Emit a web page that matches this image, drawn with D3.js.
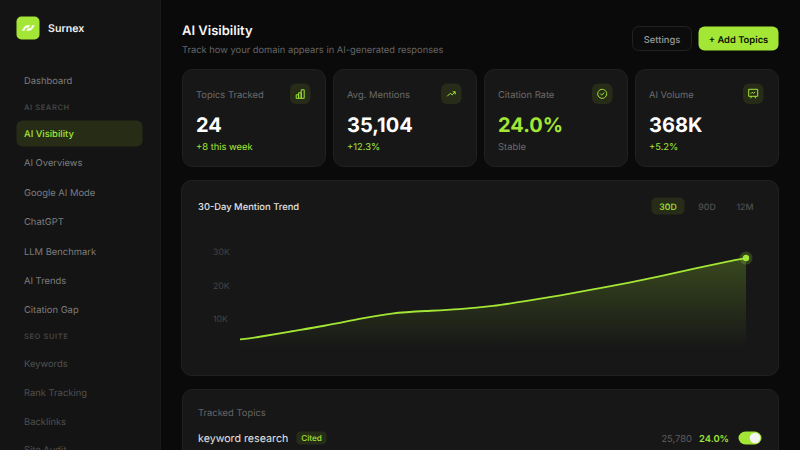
<!DOCTYPE html>
<html>
<head>
<meta charset="utf-8">
<script src="https://cdn.jsdelivr.net/npm/d3@7/dist/d3.min.js"></script>
<style>
  html, body { margin: 0; padding: 0; background: #0a0a0a; overflow: hidden; }
  svg { display: block; }
  text { font-family: Inter, "Noto Sans", sans-serif; text-rendering: geometricPrecision; }
  .axis text { fill: #444; font-size: 8.75px; }
</style>
</head>
<body>
<svg id="svg" width="800" height="450"></svg>
<script>

// nav
var navLabels = ['Dashboard', 'AI SEARCH', 'AI Visibility', 'AI Overviews', 'Google AI Mode', 'ChatGPT',
  'LLM Benchmark', 'AI Trends', 'Citation Gap', 'SEO SUITE', 'Keywords', 'Rank Tracking', 'Backlinks', 'Site Audit'];
var navY = [80, 107, 133, 162, 192, 221, 251, 280, 309, 336, 363, 392, 421, 449];

// stat cards
var cardLabels = ['Topics Tracked', 'Avg. Mentions', 'Citation Rate', 'AI Volume'];
var cardValues = ['24', '35,104', '24.0%', '368K'];
var cardNotes = ['+8 this week', '+12.3%', 'Stable', '+5.2%'];

// trend
var days = [0, 1, 3, 5, 7, 9, 11, 13, 15, 17, 19, 21, 23, 25, 27, 29, 30];
var mentions = [3900, 4500, 6300, 7900, 10000, 11850, 12400, 12850, 13800, 15400, 17000, 18900, 20750, 22800, 25100, 27300, 28200];
var yTicks = [10000, 20000, 30000];
var tabs = ['30D', '90D', '12M'];

var lime = '#a3e635';
var svg = d3.select('#svg');

function label(parent, x, y, str, size, color, weight, anchor) {
  return parent.append('text')
    .attr('x', x).attr('y', y)
    .attr('dy', '0.4em')
    .attr('font-size', size)
    .attr('font-weight', weight || 400)
    .attr('text-anchor', anchor || 'start')
    .attr('fill', color)
    .text(str);
}

function box(parent, x, y, w, h, r, fill, stroke) {
  return parent.append('rect')
    .attr('x', x + 0.5).attr('y', y + 0.5)
    .attr('width', w - 1).attr('height', h - 1)
    .attr('rx', r)
    .attr('fill', fill)
    .attr('stroke', stroke || 'none');
}

/* ---- sidebar ---- */
svg.append('rect').attr('width', 160).attr('height', 450).attr('fill', '#141414');
svg.append('rect').attr('x', 160).attr('width', 1).attr('height', 450).attr('fill', '#1a1a1a');

box(svg, 16, 16, 24, 24, 5, lime);
svg.append('path')
  .attr('d', 'M22 30.5l2.5-3.6q1-1.4 2.6-1.4h3l-2.2 2.2h-1.6q-0.6 0-1 0.6l-1 2.2zM34.5 25.5l-2.5 3.6q-1 1.4-2.6 1.4h-3l2.2-2.2h1.6q0.6 0 1-0.6l1-2.2z')
  .attr('fill', '#fff')
  .attr('stroke', '#fff')
  .attr('stroke-width', 0.4);
label(svg, 48, 28, 'Surnex', 10.6, '#f2f2f2', 600);

box(svg, 16, 120, 127, 27, 6, '#262c16');

navLabels.forEach(function (name, i) {
  var isHead = name === 'AI SEARCH' || name === 'SEO SUITE';
  if (isHead) {
    label(svg, 24, navY[i], name, 7.5, '#444', 600).attr('letter-spacing', '0.6px');
    return;
  }
  var color = i === 2 ? lime : (i > 9 ? '#505050' : '#7d7d7d');
  label(svg, 24, navY[i], name, 9.4, color, i === 2 ? 500 : 400);
});

/* ---- header ---- */
label(svg, 182, 30, 'AI Visibility', 13, '#f5f5f5', 600);
label(svg, 182, 49, 'Track how your domain appears in AI-generated responses', 9.33, '#666');

box(svg, 632, 26, 60, 25, 6, '#0c0c0c', '#222');
label(svg, 662, 39, 'Settings', 9.4, '#999', 500, 'middle');
box(svg, 698, 26, 81, 25, 6, lime);
label(svg, 738.5, 39, '+ Add Topics', 9.4, '#0a0f00', 600, 'middle');

/* ---- stat cards ---- */
var cardX = [182, 333, 484, 635];
var iconPaths = [
  'M-4 4.5h2.4v-3.5h-2.4zM-1.6 4.5h2.6v-5.5h-2.6zM1 4.5h3v-8.5h-3z',
  'M-4 2.5l3-3 2 1.5 3-3M1.5-2h2.5v2.5',
  'M0-4.5a4.5 4.5 0 1 0 0.01 0M-2-0.2l1.5 1.5 2.6-2.6',
  'M-4.5-4.5h9v7h-9zM-2.5 4.5l1-2M2.5 4.5l-1-2M-2.5 0l1.5-1.5 1.5 1 1.5-1.5'
];

cardLabels.forEach(function (name, i) {
  var g = svg.append('g').attr('transform', 'translate(' + cardX[i] + ',69)');
  box(g, 0, 0, 144, 98, 10, '#171717', '#212121');
  label(g, 14, 25, name, 9.4, '#6c6c6c');
  box(g, 107.5, 14, 21.5, 21.5, 6, '#262c18');
  g.append('path')
    .attr('transform', 'translate(118.2,24.8)')
    .attr('d', iconPaths[i])
    .attr('fill', 'none')
    .attr('stroke', lime)
    .attr('stroke-width', 1);
  label(g, 14, 55, cardValues[i], 20, i === 2 ? lime : '#fff', 700);
  label(g, 14, 77, cardNotes[i], 9.4, i === 2 ? '#6c6c6c' : lime);
});

/* ---- trend chart ---- */
box(svg, 181, 180, 598, 196, 10, '#171717', '#212121');
label(svg, 198, 206, '30-Day Mention Trend', 9.4, '#e2e2e2', 500);

box(svg, 651, 197, 34, 18, 5, '#262c18');
var tabX = [668, 707, 745];
tabs.forEach(function (t, i) {
  label(svg, tabX[i], 206, t, 8.75, i === 0 ? lime : '#4f4f4f', 500, 'middle');
});

var xDay = d3.scaleLinear()
  .domain([0, 30])
  .range([240, 746]);

var yMentions = d3.scaleLinear()
  .domain([0, 30000])
  .range([352.5, 252]);

var defs = svg.append('defs');
var grad = defs.append('linearGradient')
  .attr('id', 'fade')
  .attr('x1', 0).attr('y1', 0).attr('x2', 0).attr('y2', 1);
grad.append('stop').attr('offset', '0%').attr('stop-color', lime).attr('stop-opacity', 0.24);
grad.append('stop').attr('offset', '100%').attr('stop-color', lime).attr('stop-opacity', 0);

var trend = days.map(function (d, i) { return [d, mentions[i]]; });

svg.append('path')
  .datum(trend)
  .attr('d', d3.area()
    .x(function (d) { return xDay(d[0]); })
    .y0(yMentions(1500))
    .y1(function (d) { return yMentions(d[1]); })
    .curve(d3.curveBasis))
  .attr('fill', 'url(#fade)');

svg.append('path')
  .datum(trend)
  .attr('d', d3.line()
    .x(function (d) { return xDay(d[0]); })
    .y(function (d) { return yMentions(d[1]); })
    .curve(d3.curveBasis))
  .attr('fill', 'none')
  .attr('stroke', lime)
  .attr('stroke-width', 1.8);

var last = trend[trend.length - 1];
svg.append('circle')
  .attr('cx', xDay(last[0])).attr('cy', yMentions(last[1]))
  .attr('r', 6.5).attr('fill', lime).attr('fill-opacity', 0.2);
svg.append('circle')
  .attr('cx', xDay(last[0])).attr('cy', yMentions(last[1]))
  .attr('r', 3.2).attr('fill', lime);

var axis = svg.append('g')
  .attr('class', 'axis')
  .attr('transform', 'translate(213,0)')
  .call(d3.axisLeft(yMentions)
    .tickValues(yTicks)
    .tickSize(0)
    .tickFormat(function (d) { return (d / 1000) + 'K'; }));
axis.select('.domain').remove();
axis.selectAll('text').attr('x', 0).attr('text-anchor', 'start');

/* ---- tracked topics ---- */
box(svg, 182, 389, 597, 90, 10, '#171717', '#212121');
label(svg, 198, 412, 'Tracked Topics', 9.4, '#666');
label(svg, 198, 438, 'keyword research', 10.7, '#e2e2e2');
box(svg, 296, 431, 31, 14, 4, '#262c18');
label(svg, 311.5, 438, 'Cited', 8.2, lime, 500, 'middle');
label(svg, 692, 438, '25,780', 9.4, '#5f5f5f', 400, 'end');
label(svg, 729, 438, '24.0%', 9.4, lime, 600, 'end');
box(svg, 738, 431, 24, 14, 7, lime);
svg.append('circle').attr('cx', 755).attr('cy', 438).attr('r', 5.3).attr('fill', '#f4f4f4');

</script>
</body>
</html>
